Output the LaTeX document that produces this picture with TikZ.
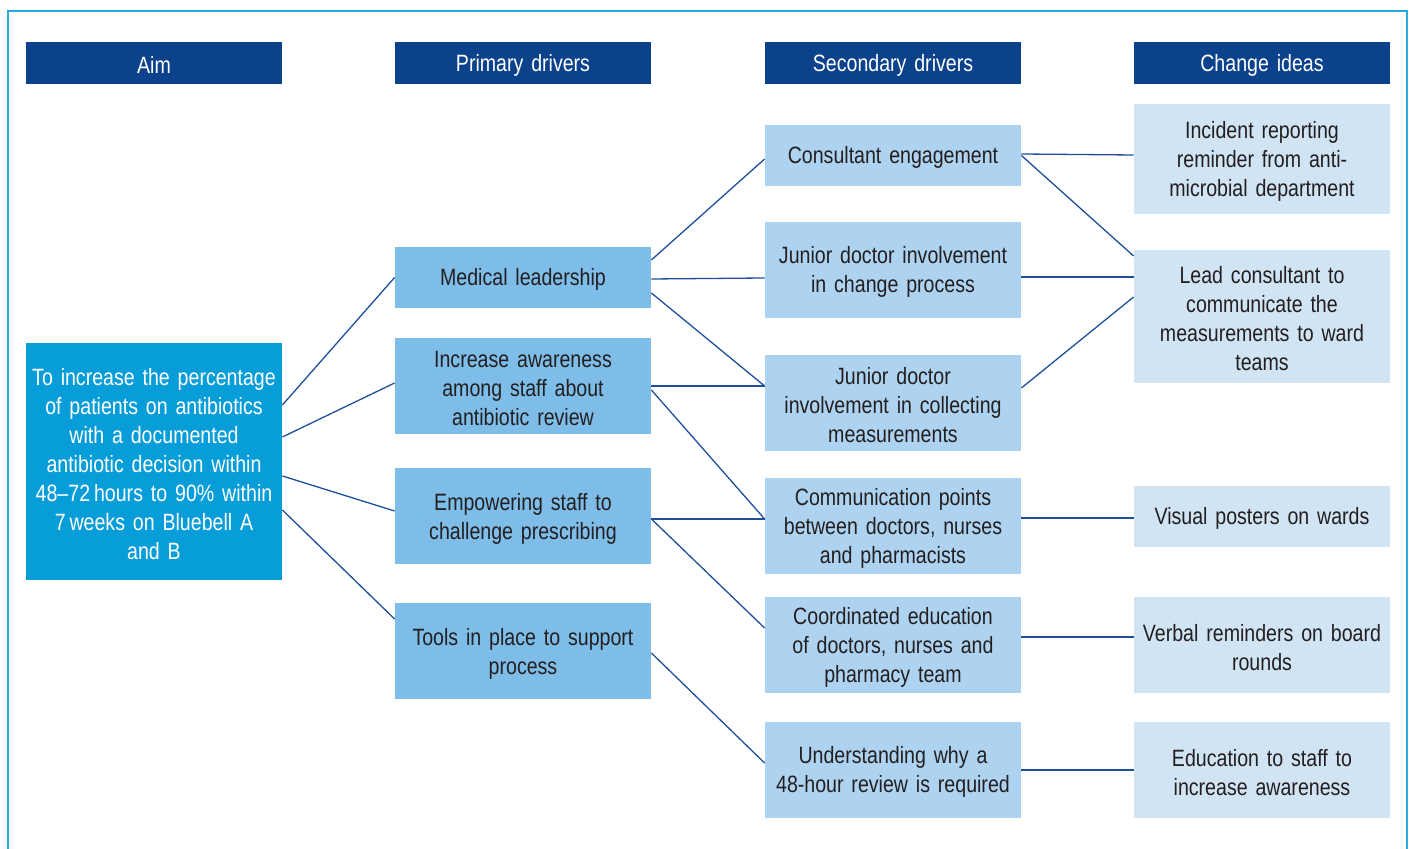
\documentclass[tikz,border=0pt]{standalone}
\usepackage{fontspec}
\setmainfont{Liberation Sans}[FakeStretch=0.83]

\definecolor{headblue}{HTML}{0B428B}
\definecolor{aimblue}{HTML}{079DD9}
\definecolor{primblue}{HTML}{7DBDE8}
\definecolor{secblue}{HTML}{AED3F0}
\definecolor{ideablue}{HTML}{D0E4F4}
\definecolor{linkblue}{HTML}{1D4F9A}
\definecolor{framecyan}{HTML}{2AA9E0}
\definecolor{boxtext}{HTML}{231F20}

\begin{document}
\begin{tikzpicture}[x=0.5pt, y=-0.5pt,
    every node/.style={font=\fontsize{11.8}{14.5}\selectfont, inner sep=0pt,
                       text width=128pt, align=center,
                       execute at begin node={\rule{0pt}{10.8pt}}},
    header/.style={fill=headblue, text=white, minimum height=21pt},
    aimbox/.style={fill=aimblue, text=white, minimum height=118.5pt},
    primary/.style={fill=primblue, text=boxtext},
    secondary/.style={fill=secblue, text=boxtext},
    idea/.style={fill=ideablue, text=boxtext},
    short/.style={minimum height=30.5pt},
    tall/.style={minimum height=48pt},
    link/.style={draw=linkblue, line width=0.65pt}]
    \useasboundingbox (0,0) rectangle (1410,849);
    \draw[framecyan, line width=1pt] (8,849) -- (8,11.5) -- (1407,11.5) -- (1407,849);

    % column headings
    \node[header] (haim)  at (154,63)  {Aim};
    \node[header] (hprim) at (523,63)  {Primary drivers};
    \node[header] (hsec)  at (893,63)  {Secondary drivers};
    \node[header] (hidea) at (1262,63) {Change ideas};

    \node[aimbox] (aim) at (154,461.5) {To increase the percentage\\ of patients on antibiotics\\
        with a documented\\ antibiotic decision within\\ 48--72\,hours to 90\% within\\
        7\,weeks on Bluebell A\\ and B};

    \node[primary, short] (med)     at (523,277.5) {Medical leadership};
    \node[primary, tall]  (aware)   at (523,386)   {Increase awareness\\ among staff about\\ antibiotic review};
    \node[primary, tall]  (empower) at (523,516.5) {Empowering staff to\\ challenge prescribing};
    \node[primary, tall]  (tools)   at (523,651.5) {Tools in place to support\\ process};

    \node[secondary, short] (cons)     at (893,155.5) {Consultant engagement};
    \node[secondary, tall]  (jchange)  at (893,270)   {Junior doctor involvement\\ in change process};
    \node[secondary, tall]  (jcollect) at (893,403)   {Junior doctor\\ involvement in collecting\\ measurements};
    \node[secondary, tall]  (comm)     at (893,526)   {Communication points\\ between doctors, nurses\\ and pharmacists};
    \node[secondary, tall]  (coord)    at (893,645)   {Coordinated education\\ of doctors, nurses and\\ pharmacy team};
    \node[secondary, tall]  (under)    at (893,770)   {Understanding why a\\ 48-hour review is required};

    \node[idea, minimum height=55pt]   (incident) at (1262,159)   {Incident reporting\\ reminder from anti-\\ microbial department};
    \node[idea, minimum height=66.5pt] (lead)     at (1262,316.5) {Lead consultant to\\ communicate the\\ measurements to ward\\ teams};
    \node[idea, short] (visual) at (1262,516.5) {Visual posters on wards};
    \node[idea, tall]  (verbal) at (1262,645)   {Verbal reminders on board\\ rounds};
    \node[idea, tall]  (educ)   at (1262,770)   {Education to staff to\\ increase awareness};

    \draw[link] ([yshift=28.25pt]aim.east) -- (med.west);
    \draw[link] ([yshift=12.25pt]aim.east) -- ([yshift=1.5pt]aware.west);
    \draw[link] ([yshift=-7.25pt]aim.east) -- ([yshift=2.75pt]empower.west);
    \draw[link] ([yshift=-24.25pt]aim.east) -- ([yshift=16.25pt]tools.west);

    \draw[link] ([yshift=8.75pt]med.east) -- ([yshift=-1.75pt]cons.west);
    \draw[link] ([yshift=-0.75pt]med.east) -- ([yshift=-4pt]jchange.west);
    \draw[link] ([yshift=-7.75pt]med.east) -- ([yshift=8.5pt]jcollect.west);
    \draw[link] (aware.east) -- ([yshift=8.5pt]jcollect.west);
    \draw[link] ([yshift=-2pt]aware.east) -- ([yshift=3.5pt]comm.west);
    \draw[link] ([yshift=-1.25pt]empower.east) -- ([yshift=3.5pt]comm.west);
    \draw[link] ([yshift=-1.25pt]empower.east) -- ([yshift=8.5pt]coord.west);
    \draw[link] ([yshift=-0.75pt]tools.east) -- ([yshift=3.5pt]under.west);

    \draw[link] ([yshift=0.75pt]cons.east) -- ([yshift=2pt]incident.west);
    \draw[link] (cons.east) -- ([yshift=30.25pt]lead.west);
    \draw[link] ([yshift=-3.5pt]jchange.east) -- ([yshift=19.75pt]lead.west);
    \draw[link] ([yshift=7.5pt]jcollect.east) -- ([yshift=9.75pt]lead.west);
    \draw[link] ([yshift=4pt]comm.east) -- ([yshift=-0.75pt]visual.west);
    \draw[link] ([yshift=4pt]coord.east) -- ([yshift=4pt]verbal.west);
    \draw[link] (under.east) -- (educ.west);
\end{tikzpicture}
\end{document}
